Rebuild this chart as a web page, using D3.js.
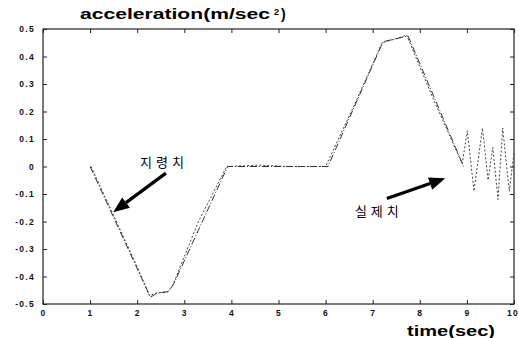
<!DOCTYPE html>
<html>
<head>
<meta charset="utf-8">
<script src="https://cdn.jsdelivr.net/npm/d3@7"></script>
<style>
  html, body { margin: 0; padding: 0; background: #fff; overflow: hidden; }
  svg { display: block; }
</style>
</head>
<body>
<svg id="chart" width="519" height="338"></svg>
<script>
// Commanded acceleration profile (지령치)
const cmdTime = [1.0, 2.28, 2.42, 2.67, 2.78, 3.92, 6.05, 7.22, 7.54, 7.75, 8.93];
const cmdAccel = [0, -0.475, -0.461, -0.455, -0.425, 0, 0, 0.454, 0.466, 0.475, 0];

// Measured acceleration (실제치)
const actTime = [1.02, 1.6, 2.0, 2.26, 2.4, 2.65, 2.76, 3.3, 3.9, 4.6, 5.2, 6.0, 6.6, 7.2, 7.5, 7.72, 8.3, 8.9,
                 9.01, 9.15, 9.33, 9.45, 9.55, 9.66, 9.76, 9.9, 10.0];
const actAccel = [0, -0.215, -0.365, -0.47, -0.46, -0.455, -0.43, -0.2, 0.0, 0.005, 0.0, 0.0, 0.22, 0.45, 0.465, 0.478, 0.24, 0.01,
                  0.13, -0.09, 0.14, -0.05, 0.07, -0.12, 0.14, -0.09, 0.05];

// Axis ticks
const xTicks = [0, 1, 2, 3, 4, 5, 6, 7, 8, 9, 10];
const yTicks = [-0.5, -0.4, -0.3, -0.2, -0.1, 0, 0.1, 0.2, 0.3, 0.4, 0.5];

// Annotation labels with arrows, in data units
const notes = [
  { text: "지령치", lx: 2.57, ly: 0.0, tail: [2.61, -0.024], tip: [1.49, -0.166] },
  { text: "실제치", lx: 7.13, ly: -0.18, tail: [7.30, -0.116], tip: [8.54, -0.043] }
];

const svg = d3.select("#chart");
const x = d3.scaleLinear().domain([0, 10]).range([43, 514]);
const y = d3.scaleLinear().domain([-0.5, 0.5]).range([304, 29]);

const tickFont = "'Liberation Sans', Arial, sans-serif";

// Plot frame
svg.append("rect")
  .attr("x", x(0)).attr("y", y(0.5))
  .attr("width", x(10) - x(0)).attr("height", y(-0.5) - y(0.5))
  .attr("fill", "none").attr("stroke", "#222").attr("stroke-width", 1.2);

function styleAxis(g) {
  g.select(".domain").remove();
  g.selectAll(".tick line").attr("stroke", "#222").attr("stroke-width", 1);
  g.selectAll(".tick text")
    .attr("fill", "#111")
    .style("font-family", tickFont)
    .style("font-size", "8.5px")
    .style("font-weight", "bold")
    .style("letter-spacing", "1.3px");
}

svg.append("g")
  .attr("transform", `translate(${x(0)},0)`)
  .call(d3.axisLeft(y).tickValues(yTicks).tickSizeInner(-4).tickSizeOuter(0).tickPadding(8)
        .tickFormat(d => d === 0 ? "0" : d3.format(".1f")(d).replace("−", "-")))
  .call(styleAxis);

const xAxisG = svg.append("g")
  .attr("transform", `translate(0,${y(-0.5)})`)
  .call(d3.axisBottom(x).tickValues(xTicks).tickSizeInner(-4).tickSizeOuter(0).tickPadding(6)
        .tickFormat(d3.format("d")))
  .call(styleAxis);

// The last label sits against the right edge of the page; keep it inside
xAxisG.selectAll(".tick text")
  .filter(d => d === 10)
  .attr("text-anchor", "end")
  .attr("dx", "4.5");

svg.append("g")
  .attr("transform", `translate(0,${y(0.5)})`)
  .call(d3.axisTop(x).tickValues(xTicks).tickSizeInner(-4).tickSizeOuter(0).tickFormat(""))
  .call(styleAxis);

svg.append("g")
  .attr("transform", `translate(${x(10)},0)`)
  .call(d3.axisRight(y).tickValues(yTicks).tickSizeInner(-4).tickSizeOuter(0).tickFormat(""))
  .call(styleAxis);

// Curves
const line = d3.line().x(d => x(d[0])).y(d => y(d[1]));

svg.append("path")
  .datum(d3.zip(actTime, actAccel))
  .attr("d", line)
  .attr("fill", "none").attr("stroke", "#444").attr("stroke-width", 1)
  .attr("stroke-dasharray", "2,2");

svg.append("path")
  .datum(d3.zip(cmdTime, cmdAccel))
  .attr("d", line)
  .attr("fill", "none").attr("stroke", "#333").attr("stroke-width", 1)
  .attr("stroke-dasharray", "7,2,1,2");

// Annotations
notes.forEach(n => {
  const x0 = x(n.tail[0]), y0 = y(n.tail[1]);
  const x1 = x(n.tip[0]), y1 = y(n.tip[1]);
  const ang = Math.atan2(y1 - y0, x1 - x0);
  const headLen = 16, headHalf = 6.5;
  const bx = x1 - headLen * Math.cos(ang), by = y1 - headLen * Math.sin(ang);
  svg.append("line")
    .attr("x1", x0).attr("y1", y0).attr("x2", bx).attr("y2", by)
    .attr("stroke", "#000").attr("stroke-width", 3.2);
  const px = -Math.sin(ang), py = Math.cos(ang);
  svg.append("path")
    .attr("d", `M${x1},${y1} L${bx + px * headHalf},${by + py * headHalf} L${bx - px * headHalf},${by - py * headHalf} Z`)
    .attr("fill", "#000");
  svg.append("text")
    .attr("x", x(n.lx)).attr("y", y(n.ly))
    .attr("text-anchor", "middle")
    .style("font-family", "'Noto Sans CJK KR', sans-serif")
    .style("font-size", "13px")
    .style("letter-spacing", "4px")
    .attr("fill", "#000")
    .text(n.text);
});

// Title and axis label
const title = svg.append("text")
  .attr("y", 18.5)
  .style("font-family", tickFont)
  .style("font-weight", "bold")
  .attr("fill", "#000");
title.append("tspan").attr("x", 80).style("font-size", "14px")
  .attr("textLength", 190).attr("lengthAdjust", "spacingAndGlyphs")
  .text("acceleration(m/sec");
title.append("tspan").attr("x", 274).attr("y", 15).style("font-size", "9px").text("2");
title.append("tspan").attr("x", 281).attr("y", 18.5).style("font-size", "14px").text(")");

svg.append("text")
  .attr("x", 407).attr("y", 336)
  .attr("textLength", 88).attr("lengthAdjust", "spacingAndGlyphs")
  .style("font-family", tickFont)
  .style("font-weight", "bold")
  .style("font-size", "15px")
  .attr("fill", "#000")
  .text("time(sec)");
</script>
</body>
</html>
